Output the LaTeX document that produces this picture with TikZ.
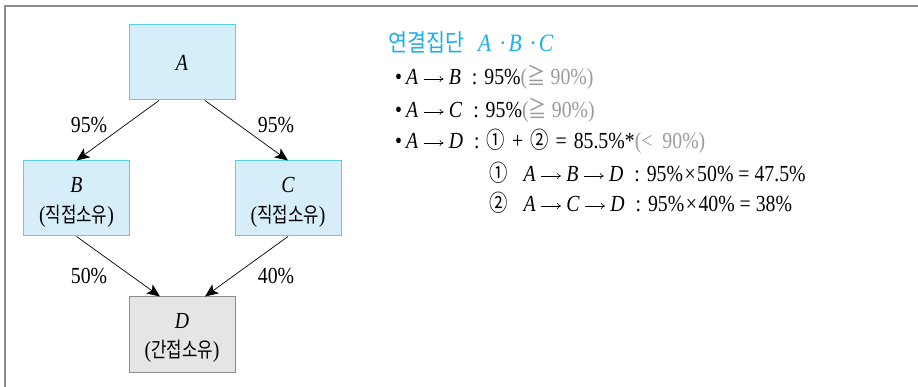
\documentclass[tikz,border=0pt]{standalone}
\usepackage{fontspec}
\setmainfont[FakeStretch=0.86]{Liberation Serif}
\newfontfamily\kr[FakeStretch=0.8]{Noto Sans CJK KR}
\newfontfamily\krtitle[FakeStretch=0.86]{Noto Sans CJK KR}
\usetikzlibrary{arrows.meta}
\definecolor{framegray}{HTML}{8C8C8C}
\definecolor{boxfill}{HTML}{D5EEF9}
\definecolor{boxline}{HTML}{5BCBF0}
\definecolor{dfill}{HTML}{E5E5E5}
\definecolor{dline}{HTML}{8C8C8C}
\definecolor{titlecyan}{HTML}{1BB0E9}
\definecolor{softgray}{HTML}{9A9A9A}
\newcommand\myarr{\hspace{5pt}\tikz[x=1pt,y=1pt,baseline=0pt]\draw[line width=0.6pt,-{To[length=4pt,width=6pt]}] (0,6) -- (20,6);\hspace{5pt}}
\newcommand\mycolon{\hspace{11pt}:\hspace{7pt}}
\newcommand\ita[1]{\textit{#1}}
\newcommand\mytimes{\hspace{1.5pt}×\hspace{1.5pt}}
\begin{document}
\begin{tikzpicture}[x=1pt,y=-1pt,
  every node/.style={font=\fontsize{23}{27}\selectfont},
  bluebox/.style={draw=boxline, fill=boxfill, line width=1pt, minimum width=106pt, minimum height=75pt, inner sep=0pt},
  graybox/.style={draw=dline, fill=dfill, line width=1pt, minimum width=106pt, minimum height=75pt, inner sep=0pt},
  conn/.style={line width=0.7pt, -{Stealth[length=13pt,width=11pt,inset=3pt]}},
  lbl/.style={inner sep=0pt},
  txt/.style={anchor=base west, inner sep=0pt}]
\useasboundingbox (0,0) rectangle (918,387);
\draw[framegray, line width=2pt] (5,387) -- (5,6) -- (918,6);
% boxes
\node[bluebox] (A) at (182,62.5) {};
\node[bluebox] (B) at (76.5,198.5) {};
\node[bluebox] (C) at (288,198.5) {};
\node[graybox] (D) at (182,334.5) {};
\node[lbl] (At) at (182,63) {\ita{A}};
\node[lbl] (Bt) at (76.5,185) {\ita{B}};
\node[lbl] (Bk) at (76.5,216) {({\kr\fontsize{21}{25}\selectfont 직접소유})};
\node[lbl] (Ct) at (288,185) {\ita{C}};
\node[lbl] (Ck) at (288,216) {({\kr\fontsize{21}{25}\selectfont 직접소유})};
\node[lbl] (Dt) at (182,321) {\ita{D}};
\node[lbl] (Dk) at (182,351) {({\kr\fontsize{21}{25}\selectfont 간접소유})};
% connectors
\draw[conn] ([xshift=-23pt]A.south) -- (B.north);
\draw[conn] ([xshift=23pt]A.south) -- (C.north);
\draw[conn] (B.south) -- ([xshift=-22pt]D.north);
\draw[conn] (C.south) -- ([xshift=23pt]D.north);
\node[lbl] (l1) at (89,125) {95\%};
\node[lbl] (l2) at (276,125) {95\%};
\node[lbl] (l3) at (89,276) {50\%};
\node[lbl] (l4) at (276,276) {40\%};
% right text
\node[txt, text=titlecyan] (title) at (388,52) {{\krtitle\fontsize{24}{28}\selectfont 연결집단}\hspace{14pt}{\fontsize{25}{29}\selectfont\ita{A}\hspace{8pt}·\hspace{2pt}\ita{B}\hspace{8pt}·\hspace{2pt}\ita{C}}};
\node[txt] (r1) at (395,85) {•\hspace{4pt}\ita{A}\myarr\ita{B}\mycolon 95\%{\color{softgray}({\kr ≧} 90\%)}};
\node[txt] (r2) at (395,118) {•\hspace{4pt}\ita{A}\myarr\ita{C}\mycolon 95\%{\color{softgray}({\kr ≧} 90\%)}};
\node[txt] (r3) at (395,149) {•\hspace{4pt}\ita{A}\myarr\ita{D}\mycolon{\kr ①}\hspace{7pt}+\hspace{7pt}{\kr ②}\hspace{7pt}=\hspace{7pt}85.5\%*{\color{softgray}(<\hspace{10pt}90\%)}};
\node[txt] (r4) at (489,182) {{\kr ①}\hspace{16pt}\ita{A}\myarr\ita{B}\myarr\ita{D}\mycolon 95\%\mytimes 50\% = 47.5\%};
\node[txt] (r5) at (489,212) {{\kr ②}\hspace{16pt}\ita{A}\myarr\ita{C}\myarr\ita{D}\mycolon 95\%\mytimes 40\% = 38\%};
\end{tikzpicture}
\end{document}
